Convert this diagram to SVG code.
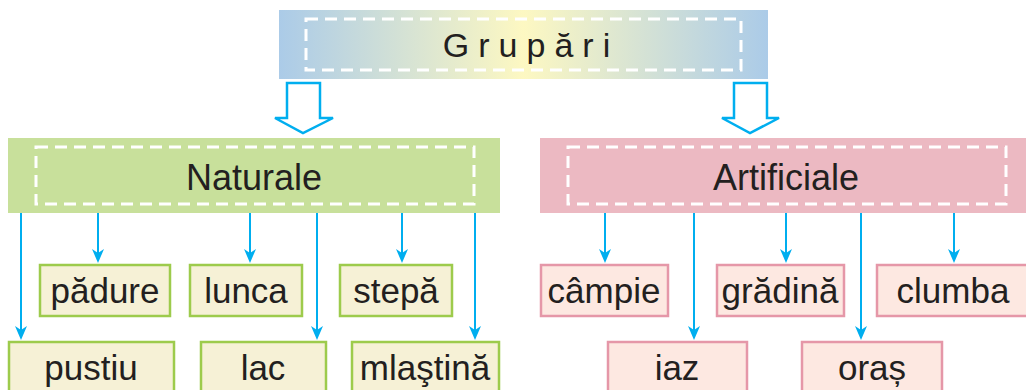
<svg xmlns="http://www.w3.org/2000/svg" width="1026" height="390" viewBox="0 0 1026 390">
<defs>
<linearGradient id="g" x1="0" y1="0" x2="1" y2="0">
<stop offset="0" stop-color="#abcbe8"/>
<stop offset="0.5" stop-color="#fdf8c2"/>
<stop offset="1" stop-color="#abcbe8"/>
</linearGradient>
<marker id="ah" markerUnits="userSpaceOnUse" markerWidth="16" markerHeight="14" viewBox="-1 -7 16 14" refX="10" refY="0" orient="auto">
<path d="M0,-6 L14,0 L0,6 L4,0 z" fill="#00aeef"/>
</marker>
</defs>
<style>
.t{font-family:"Liberation Sans",Arial,sans-serif;fill:#231f20;text-anchor:middle}
.dash{fill:none;stroke:#fff;stroke-width:3;stroke-dasharray:12 7}
.gb{fill:#f6f1d6;stroke:#9dcb4c;stroke-width:2.5}
.pb{fill:#fde8e1;stroke:#e597a8;stroke-width:2.5}
.c{stroke:#00aeef;stroke-width:2;fill:none;marker-end:url(#ah)}
.ha{fill:#fff;stroke:#00aeef;stroke-width:2.5;stroke-linejoin:miter}
</style>
<g id="grupari">
<rect x="279" y="10" width="489" height="69" fill="url(#g)"/>
<rect class="dash" x="306" y="19" width="435" height="51"/>
<text class="t" x="531" y="57" font-size="34" letter-spacing="9">Grupări</text>
</g>
<g id="naturale">
<rect x="8" y="138" width="492" height="75" fill="#c8e09b"/>
<rect class="dash" x="36" y="147" width="438" height="57"/>
<text class="t" x="254" y="190" font-size="36">Naturale</text>
</g>
<g id="artificiale">
<rect x="540" y="138" width="486" height="75" fill="#ecb9c2"/>
<rect class="dash" x="568" y="147" width="438" height="57"/>
<text class="t" x="786" y="190" font-size="36">Artificiale</text>
</g>
<g id="connectors">
<path class="ha" d="M287,83 H320 V118 H333 L303,133 L275,118 H287 Z"/>
<path class="ha" d="M734,83 H767 V118 H779 L750,133 L722,118 H734 Z"/>
<path class="c" d="M21,213 V336"/>
<path class="c" d="M98,213 V259"/>
<path class="c" d="M250,213 V259"/>
<path class="c" d="M317,213 V336"/>
<path class="c" d="M402,213 V259"/>
<path class="c" d="M475,213 V336"/>
<path class="c" d="M605,213 V259"/>
<path class="c" d="M694,213 V336"/>
<path class="c" d="M786,213 V259"/>
<path class="c" d="M861,213 V336"/>
<path class="c" d="M954,213 V259"/>
</g>
<g id="padure"><rect class="gb" x="40" y="265" width="130" height="51"/><text class="t" x="105" y="303" font-size="35">pădure</text></g>
<g id="lunca"><rect class="gb" x="190" y="265" width="112" height="51"/><text class="t" x="246" y="303" font-size="35">lunca</text></g>
<g id="stepa"><rect class="gb" x="340" y="265" width="112" height="51"/><text class="t" x="396" y="303" font-size="35">stepă</text></g>
<g id="pustiu"><rect class="gb" x="9" y="342" width="165" height="60"/><text class="t" x="91" y="380" font-size="35">pustiu</text></g>
<g id="lac"><rect class="gb" x="201" y="342" width="125" height="60"/><text class="t" x="263" y="380" font-size="35">lac</text></g>
<g id="mlastina"><rect class="gb" x="352" y="342" width="147" height="60"/><text class="t" x="425" y="380" font-size="35">mlaştină</text></g>
<g id="campie"><rect class="pb" x="541" y="265" width="127" height="51"/><text class="t" x="604" y="303" font-size="35">câmpie</text></g>
<g id="gradina"><rect class="pb" x="717" y="265" width="127" height="51"/><text class="t" x="780" y="303" font-size="35">grădină</text></g>
<g id="clumba"><rect class="pb" x="877" y="265" width="160" height="51"/><text class="t" x="953" y="303" font-size="35">clumba</text></g>
<g id="iaz"><rect class="pb" x="608" y="342" width="139" height="60"/><text class="t" x="677" y="380" font-size="35">iaz</text></g>
<g id="oras"><rect class="pb" x="802" y="342" width="140" height="60"/><text class="t" x="872" y="380" font-size="35">oraș</text></g>
</svg>
